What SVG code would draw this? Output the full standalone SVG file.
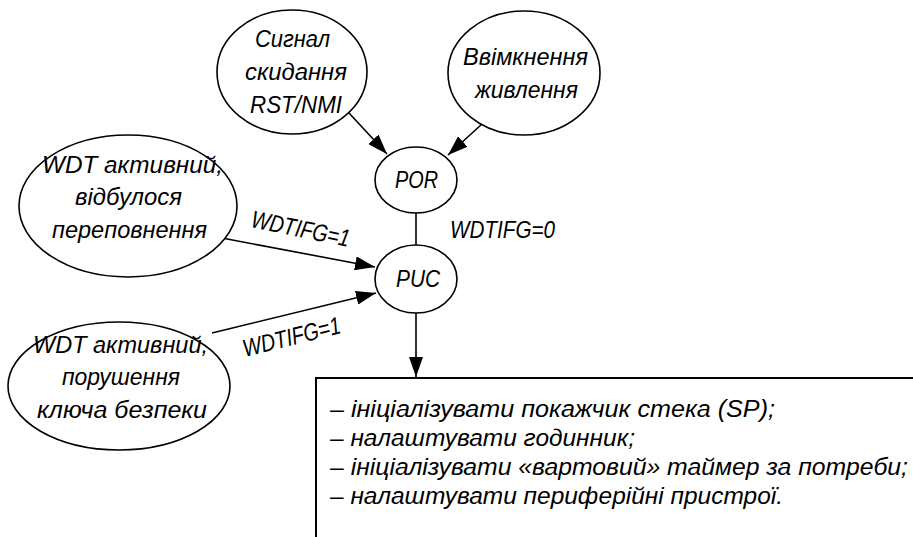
<svg xmlns="http://www.w3.org/2000/svg" width="913" height="537" viewBox="0 0 913 537">
<style>
  .n { fill: #fff; stroke: #000; stroke-width: 1.6; }
  .t { font-family: "Liberation Sans", "DejaVu Sans", sans-serif; font-style: italic; font-size: 24.5px; fill: #000; }
  .c { stroke: #000; stroke-width: 1.6; fill: none; }
  .box { fill: #fff; stroke: #000; stroke-width: 2; }
</style>
<defs>
  <marker id="ah" viewBox="0 0 20 14" refX="20" refY="7" markerWidth="20" markerHeight="14" markerUnits="userSpaceOnUse" orient="auto">
    <path d="M0,0 L20,7 L0,14 Z" fill="#000"/>
  </marker>
</defs>
<rect width="913" height="537" fill="#fff"/>
<g id="connectors">
  <line class="c" x1="349" y1="113" x2="387" y2="154" marker-end="url(#ah)"/>
  <line class="c" x1="482" y1="124" x2="448" y2="155" marker-end="url(#ah)"/>
  <line class="c" x1="416" y1="213" x2="416" y2="245"/>
  <line class="c" x1="222" y1="238" x2="375" y2="267" marker-end="url(#ah)"/>
  <line class="c" x1="212" y1="333" x2="376" y2="293" marker-end="url(#ah)"/>
  <line class="c" x1="416" y1="313" x2="416" y2="377" marker-end="url(#ah)"/>
  <text class="t" x="450" y="238" textLength="105" lengthAdjust="spacingAndGlyphs">WDTIFG=0</text>
  <text class="t" x="250" y="227" textLength="100" lengthAdjust="spacingAndGlyphs" transform="rotate(11.5 250 227)">WDTIFG=1</text>
  <text class="t" x="245" y="357" textLength="100" lengthAdjust="spacingAndGlyphs" transform="rotate(-13.9 245 357)">WDTIFG=1</text>
</g>
<g id="node-rst">
  <ellipse class="n" cx="292" cy="72" rx="75" ry="62"/>
  <text class="t" x="255" y="47" textLength="75" lengthAdjust="spacingAndGlyphs">Сигнал</text>
  <text class="t" x="245" y="80" textLength="102" lengthAdjust="spacingAndGlyphs">скидання</text>
  <text class="t" x="250" y="113" textLength="92" lengthAdjust="spacingAndGlyphs">RST/NMI</text>
</g>
<g id="node-power">
  <ellipse class="n" cx="524" cy="73" rx="76" ry="62"/>
  <text class="t" x="463" y="65" textLength="125" lengthAdjust="spacingAndGlyphs">Ввімкнення</text>
  <text class="t" x="475" y="98" textLength="103" lengthAdjust="spacingAndGlyphs">живлення</text>
</g>
<g id="node-por">
  <ellipse class="n" cx="416" cy="180" rx="41" ry="33"/>
  <text class="t" x="395" y="188" textLength="43" lengthAdjust="spacingAndGlyphs">POR</text>
</g>
<g id="node-puc">
  <ellipse class="n" cx="416" cy="279" rx="41" ry="34"/>
  <text class="t" x="396" y="287" textLength="44" lengthAdjust="spacingAndGlyphs">PUC</text>
</g>
<g id="node-wdt-overflow">
  <ellipse class="n" cx="128" cy="206" rx="109" ry="71"/>
  <text class="t" x="42" y="173" textLength="181" lengthAdjust="spacingAndGlyphs">WDT активний,</text>
  <text class="t" x="75" y="205" textLength="107" lengthAdjust="spacingAndGlyphs">відбулося</text>
  <text class="t" x="52" y="238" textLength="155" lengthAdjust="spacingAndGlyphs">переповнення</text>
</g>
<g id="node-wdt-key">
  <ellipse class="n" cx="119" cy="386" rx="111" ry="64"/>
  <text class="t" x="33" y="353" textLength="175" lengthAdjust="spacingAndGlyphs">WDT активний,</text>
  <text class="t" x="62" y="385" textLength="118" lengthAdjust="spacingAndGlyphs">порушення</text>
  <text class="t" x="37" y="418" textLength="170" lengthAdjust="spacingAndGlyphs">ключа безпеки</text>
</g>
<g id="node-actions">
  <rect class="box" x="316" y="378" width="620" height="200"/>
  <text class="t" x="330" y="417" textLength="445" lengthAdjust="spacingAndGlyphs">– ініціалізувати покажчик стека (SP);</text>
  <text class="t" x="330" y="446" textLength="305" lengthAdjust="spacingAndGlyphs">– налаштувати годинник;</text>
  <text class="t" x="330" y="475" textLength="578" lengthAdjust="spacingAndGlyphs">– ініціалізувати «вартовий» таймер за потреби;</text>
  <text class="t" x="330" y="504" textLength="453" lengthAdjust="spacingAndGlyphs">– налаштувати периферійні пристрої.</text>
</g>
</svg>
